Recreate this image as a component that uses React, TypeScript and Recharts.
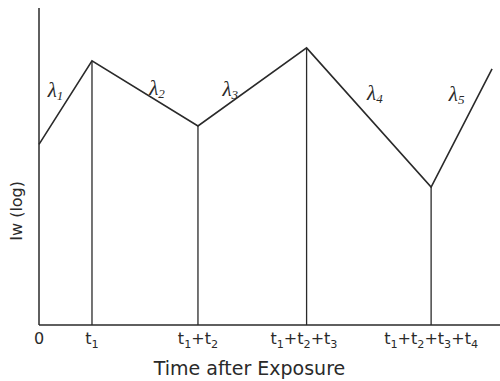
import React from "react";
import {
  ComposedChart,
  Line,
  XAxis,
  YAxis,
  ReferenceLine,
  Scatter,
} from "recharts";

// break points of the intensity curve (time in units of t1, log Iw)
const times = [0, 1, 3, 5.05, 7.4, 8.55];
const logIw = [5.7, 8.33, 6.28, 8.74, 4.35, 8.08];

const tickTimes = [0, 1, 3, 5, 7.4];
const tickLabels = ["0", "t1", "t1+t2", "t1+t2+t3", "t1+t2+t3+t4"];

const segmentNames = ["λ1", "λ2", "λ3", "λ4", "λ5"];
// pixel nudge of each λ label from its segment midpoint
const labelNudge = [
  [-10, -12],
  [12, -4],
  [-22, 3],
  [6, -24],
  [-5, -33],
];

const curve = times.map((t, i) => ({ t, v: logIw[i] }));
const midpoints = segmentNames.map((name, i) => ({
  t: (times[i] + times[i + 1]) / 2,
  m: (logIw[i] + logIw[i + 1]) / 2,
  name,
  i,
}));

const INK = "#2a2a2a";
const SANS = "'DejaVu Sans', sans-serif";

// "t1+t2" -> t with lowered digit
const withSubs = (s: string, fs: number) => {
  if (s === "0") return s;
  const parts = s.split(/(\d)/).filter((p) => p !== "");
  return parts.map((part, k) => {
    const isDigit = /\d/.test(part);
    const prevDigit = k > 0 && /\d/.test(parts[k - 1]);
    return (
      <tspan
        key={k}
        fontSize={isDigit ? fs * 0.7 : fs}
        dy={isDigit ? 4 : prevDigit ? -4 : 0}
      >
        {part}
      </tspan>
    );
  });
};

const TimeTick = (props: any) => {
  const { x, y, payload } = props;
  const idx = tickTimes.indexOf(payload.value);
  const label = idx >= 0 ? tickLabels[idx] : "";
  return (
    <text
      x={x}
      y={y + 11}
      textAnchor="middle"
      fontFamily={SANS}
      fontSize={16}
      fill={INK}
    >
      {withSubs(label, 16)}
    </text>
  );
};

const LambdaLabel = (props: any) => {
  const { cx, cy, payload } = props;
  const [dx, dy] = labelNudge[payload.i];
  const name: string = payload.name;
  return (
    <text
      x={cx + dx}
      y={cy + dy + 6}
      textAnchor="middle"
      fontFamily="'Liberation Serif', serif"
      fontStyle="italic"
      fontSize={21}
      fill={INK}
    >
      {name[0]}
      <tspan fontSize={13} dy={3}>
        {name.slice(1)}
      </tspan>
    </text>
  );
};

const YTitle = (props: any) => {
  const { viewBox } = props;
  const cx = viewBox.x + 17;
  const cy = viewBox.y + viewBox.height * 0.64;
  return (
    <text
      x={cx}
      y={cy}
      transform={`rotate(-90 ${cx} ${cy})`}
      textAnchor="middle"
      dominantBaseline="central"
      fontFamily={SANS}
      fontSize={16}
      fill={INK}
    >
      Iw (log)
    </text>
  );
};

export default function App() {
  return (
    <div style={{ position: "absolute", left: 0, top: 0, background: "#fff" }}>
      <ComposedChart
        width={500}
        height={381}
        data={curve}
        margin={{ top: 8, right: 0, bottom: 0, left: 0 }}
      >
        <XAxis
          dataKey="t"
          type="number"
          domain={[0, 8.7]}
          ticks={tickTimes}
          tick={<TimeTick />}
          tickLine={false}
          axisLine={{ stroke: INK, strokeWidth: 1.5 }}
          height={56}
          label={{
            value: "Time after Exposure",
            position: "insideBottom",
            offset: 6,
            dx: -20,
            fontFamily: SANS,
            fontSize: 19,
            fill: INK,
          }}
        />
        <YAxis
          type="number"
          domain={[0, 10]}
          width={39}
          tick={false}
          tickLine={false}
          axisLine={{ stroke: INK, strokeWidth: 1.5 }}
          label={{ content: <YTitle /> }}
        />
        {times.slice(1, -1).map((t, i) => (
          <ReferenceLine
            key={t}
            segment={[
              { x: t, y: 0 },
              { x: t, y: logIw[i + 1] },
            ]}
            stroke={INK}
            strokeWidth={1.3}
            ifOverflow="extendDomain"
          />
        ))}
        <Line
          dataKey="v"
          type="linear"
          stroke={INK}
          strokeWidth={1.6}
          dot={false}
          isAnimationActive={false}
        />
        <Scatter
          data={midpoints}
          dataKey="m"
          shape={<LambdaLabel />}
          isAnimationActive={false}
        />
      </ComposedChart>
    </div>
  );
}
